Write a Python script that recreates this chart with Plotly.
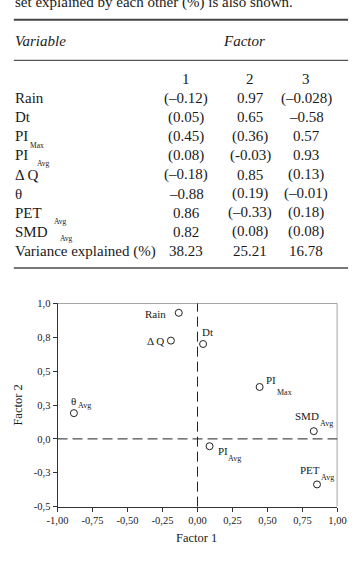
import plotly.graph_objects as go

W, H = 359, 561
FONT = "Liberation Serif"
TXT = "#1a1a1a"

# ---------------- data ----------------
var_main = ["Rain", "Dt", "PI", "PI", "\u0394 Q", "\u03b8", "PET", "SMD", "Variance explained (%)"]
var_sub = ["", "", "Max", "Avg", "", "", "Avg", "Avg", ""]
factor_headers = ["1", "2", "3"]
factor1 = ["(\u20130.12)", "(0.05)", "(0.45)", "(0.08)", "(\u20130.18)", "\u20130.88", "0.86", "0.82", "38.23"]
factor2 = ["0.97", "0.65", "(0.36)", "(-0.03)", "0.85", "(0.19)", "(\u20130.33)", "(0.08)", "25.21"]
factor3 = ["(\u20130.028)", "\u20130.58", "0.57", "0.93", "(0.13)", "(\u20130.01)", "(0.18)", "(0.08)", "16.78"]

# loadings as plotted
pt_main = ["Rain", "\u0394 Q", "Dt", "PI", "\u03b8", "SMD", "PI", "PET"]
pt_sub = ["", "", "", "Max", "Avg", "Avg", "Avg", "Avg"]
pt_x = [-0.134, -0.19, 0.04, 0.444, -0.883, 0.831, 0.086, 0.854]
pt_y = [0.93, 0.725, 0.70, 0.383, 0.19, 0.057, -0.054, -0.336]

x_ticks = [-1.0, -0.75, -0.5, -0.25, 0.0, 0.25, 0.5, 0.75, 1.0]
x_ticktext = ["-1,00", "-0,75", "-0,50", "-0,25", "0,00", "0,25", "0,50", "0,75", "1,00"]
y_ticks = [1.0, 0.75, 0.5, 0.25, 0.0, -0.25, -0.5]
y_ticktext = ["1,0", "0,8", "0,5", "0,3", "0,0", "-0,3", "-0,5"]


def px(x):
    return x / W


def py(y):
    return 1 - y / H


fig = go.Figure()
fig.add_trace(go.Scatter(
    x=pt_x, y=pt_y, mode="markers",
    marker=dict(symbol="circle-open", size=7, color="#222", line=dict(width=1, color="#222")),
    showlegend=False, hoverinfo="skip", cliponaxis=False,
))

ann = []
shapes = []

# ---------------- table ----------------
ann.append(dict(text="set explained by each other (%) is also shown.", x=px(3), y=py(-3),
                xanchor="left", yanchor="middle", font=dict(size=15)))
shapes.append(dict(type="line", xref="paper", yref="paper", x0=px(3), x1=px(357), y0=py(15), y1=py(15),
                   line=dict(color="#444", width=2)))
ann.append(dict(text="<i>Variable</i>", x=px(3), y=py(36.5), xanchor="left", yanchor="middle", font=dict(size=15)))
ann.append(dict(text="<i>Factor</i>", x=px(246.7), y=py(36.5), xanchor="center", yanchor="middle", font=dict(size=15)))
shapes.append(dict(type="line", xref="paper", yref="paper", x0=px(3), x1=px(357), y0=py(56.5), y1=py(56.5),
                   line=dict(color="#555", width=1.2)))

col_x = [185.7, 253.3, 312.5]
for cx, h in zip(col_x, factor_headers):
    ann.append(dict(text=h, x=px(cx), y=py(75), xanchor="center", yanchor="middle", font=dict(size=15)))

row0, step = 95.0, 19.5
sub_x = {2: 19, 3: 26.5, 6: 45, 7: 50.5}
sub_dy = {2: 9.5, 3: 7.7, 6: 8.5, 7: 7.0}
for i, name in enumerate(var_main):
    ry = row0 + i * step
    ann.append(dict(text=name, x=px(3), y=py(ry), xanchor="left", yanchor="middle", font=dict(size=15)))
    if var_sub[i]:
        ann.append(dict(text=var_sub[i], x=px(sub_x[i]), y=py(ry + sub_dy[i]), xanchor="left",
                        yanchor="middle", font=dict(size=7.5)))
    for cx, col in zip(col_x, [factor1, factor2, factor3]):
        ann.append(dict(text=col[i], x=px(cx), y=py(ry), xanchor="center", yanchor="middle", font=dict(size=15)))

shapes.append(dict(type="line", xref="paper", yref="paper", x0=px(3), x1=px(357), y0=py(268.3), y1=py(268.3),
                   line=dict(color="#777", width=2)))

# ---------------- scatter labels ----------------
# (main dx, main dy, anchor, sub dx, sub dy) in screen pixels relative to point (dy downward)
lab_off = [
    (-11.5, 0.7, "right", None, None),
    (-6.0, 0.0, "right", None, None),
    (-2.0, -11.7, "left", None, None),
    (5.5, -7.3, "left", 16.5, 6.0),
    (-4.0, -12.4, "left", 3.5, -7.7),
    (-19.5, -15.0, "left", 5.5, -8.0),
    (7.0, 5.0, "left", 17.5, 12.7),
    (-18.5, -14.3, "left", 2.5, -6.6),
]
for i in range(len(pt_x)):
    mdx, mdy, anc, sdx, sdy = lab_off[i]
    ann.append(dict(text=pt_main[i], x=pt_x[i], y=pt_y[i], xref="x", yref="y", xanchor=anc, yanchor="middle",
                    xshift=mdx, yshift=-mdy, font=dict(size=11)))
    if pt_sub[i]:
        ann.append(dict(text=pt_sub[i], x=pt_x[i], y=pt_y[i], xref="x", yref="y", xanchor="left",
                        yanchor="middle", xshift=sdx, yshift=-sdy, font=dict(size=8)))

# axis titles
ann.append(dict(text="Factor 1", x=px(196.7), y=py(544), xanchor="center", yanchor="middle", font=dict(size=12.5)))
ann.append(dict(text="Factor 2", x=px(7), y=py(408), xanchor="center", yanchor="middle", textangle=-90,
                font=dict(size=12.5)))

for a in ann:
    a.setdefault("xref", "paper")
    a.setdefault("yref", "paper")
    a["showarrow"] = False
    a["borderpad"] = 0
    a["font"].setdefault("family", FONT)
    a["font"].setdefault("color", TXT)

# plot frame (top/right gray), dashed zero lines
shapes.append(dict(type="line", xref="x", yref="y", x0=-1, x1=1, y0=1, y1=1, line=dict(color="#888", width=1.5)))
shapes.append(dict(type="line", xref="x", yref="y", x0=1, x1=1, y0=-0.5, y1=1, line=dict(color="#888", width=1.5)))
shapes.append(dict(type="line", xref="x", yref="y", x0=0, x1=0, y0=-0.5, y1=1,
                   line=dict(color="#222", width=1, dash="10px,5px")))
shapes.append(dict(type="line", xref="x", yref="y", x0=-1, x1=1, y0=0, y1=0,
                   line=dict(color="#222", width=1, dash="10px,5px")))

fig.update_layout(
    width=W, height=H, margin=dict(l=0, r=0, t=0, b=0),
    paper_bgcolor="white", plot_bgcolor="white",
    font=dict(family=FONT, color=TXT),
    annotations=ann, shapes=shapes,
    xaxis=dict(domain=[px(49.3), px(345.7)], range=[-1, 1], tickvals=x_ticks, ticktext=x_ticktext,
               showgrid=False, zeroline=False, showline=True, linecolor="#333", linewidth=1,
               ticks="outside", ticklen=4, tickcolor="#333", tickfont=dict(size=10.5, family=FONT, color=TXT)),
    yaxis=dict(domain=[py(511.7), py(304.3)], range=[-0.5, 1], tickvals=y_ticks, ticktext=y_ticktext,
               showgrid=False, zeroline=False, showline=True, linecolor="#333", linewidth=1,
               ticks="outside", ticklen=4, tickcolor="#333", tickfont=dict(size=10.5, family=FONT, color=TXT)),
)

fig.write_html(
    "out.html",
    post_script="document.documentElement.style.margin='0';document.body.style.margin='0';"
                "document.body.style.padding='0';document.body.style.overflow='hidden';",
)
